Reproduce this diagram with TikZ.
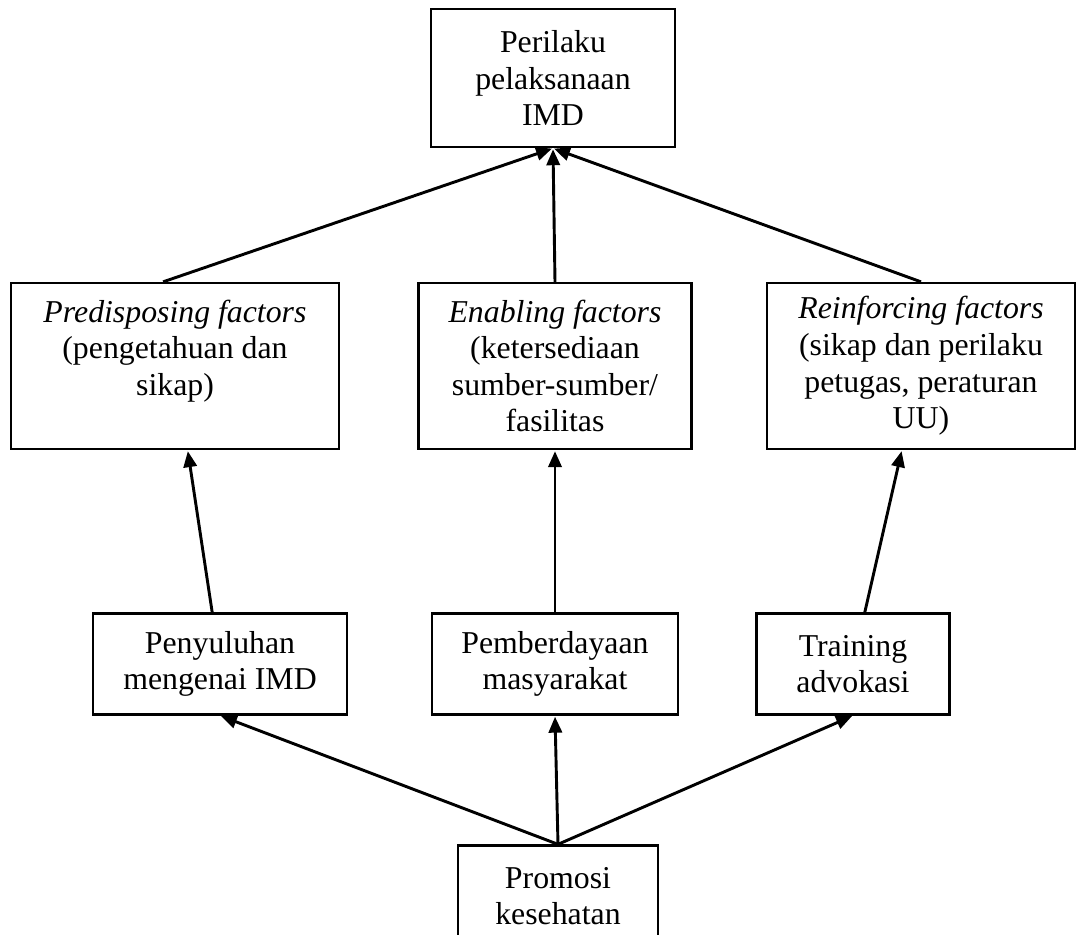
\documentclass[tikz,border=0pt]{standalone}
\usepackage{fontspec}
\setmainfont{Liberation Serif}
\usetikzlibrary{arrows.meta}

\begin{document}
\begin{tikzpicture}[x=0.013265cm, y=-0.013265cm,
	box/.style={draw, line width=0.9pt, align=center, inner sep=0pt,
		font=\fontsize{12pt}{13.8pt}\selectfont},
	arr/.style={line width=1.1pt, -{Triangle[length=6pt,width=5pt]}, shorten >=0.4pt}]
		\clip (0,0) rectangle (1084,934);
		
		% top
		\node[box, minimum width=92.1pt, minimum height=52.1pt] (perilaku) at (553,78) {Perilaku\\pelaksanaan\\IMD};
		
		% factors
		\node[box, minimum width=123.8pt, minimum height=62.6pt] (predis) at (175,366) {\textit{Predisposing factors}\\(pengetahuan dan\\sikap)\\\mbox{}};
		\node[box, minimum width=103pt, minimum height=62.6pt] (enabl) at (555,366) {\textit{Enabling factors}\\(ketersediaan\\sumber-sumber/\\fasilitas};
		\node[box, minimum width=116.2pt, minimum height=62.6pt] (reinf) at (921,366) {\textit{Reinforcing factors}\\(sikap dan perilaku\\petugas, peraturan\\UU)};
		
		% programs
		\node[box, minimum width=95.9pt, minimum height=38.1pt] (penyul) at (220,664) {Penyuluhan\\mengenai IMD};
		\node[box, minimum width=92.8pt, minimum height=38.1pt] (pember) at (555,664) {Pemberdayaan\\masyarakat};
		\node[box, minimum width=72.8pt, minimum height=38.1pt] (train) at (853,664) {Training\\advokasi};
		
		% bottom
		\node[box, minimum width=75.5pt, minimum height=38.1pt] (promosi) at (558,896) {Promosi\\kesehatan};
		
		\draw[arr] ([xshift=-4.5pt]predis.north) -- (perilaku.south);
		\draw[arr] (enabl.north) -- (perilaku.south);
		\draw[arr] (reinf.north) -- (perilaku.south);
		
		\draw[arr] (penyul) -- (predis);
		\draw[arr] (pember) -- (enabl);
		\draw[arr] (train) -- (reinf);
		
		\draw[arr] (promosi.north) -- (penyul.south);
		\draw[arr] (promosi.north) -- (pember.south);
		\draw[arr] (promosi.north) -- (train.south);
\end{tikzpicture}
\end{document}
